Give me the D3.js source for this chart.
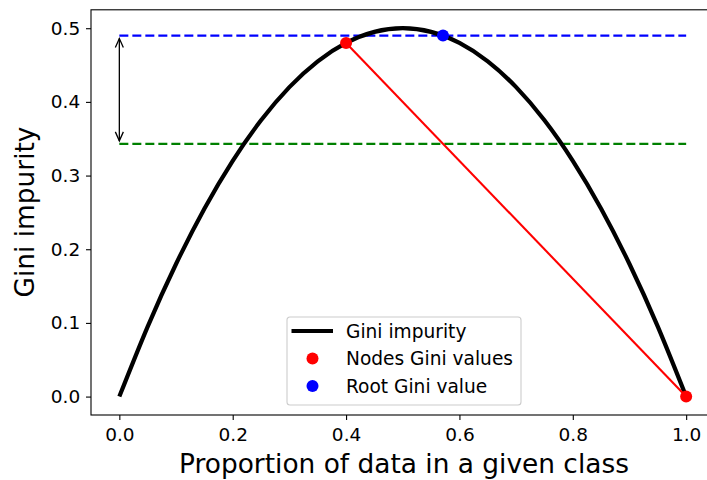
<!DOCTYPE html>
<html><head><meta charset="utf-8">
<script src="https://cdn.jsdelivr.net/npm/d3@7"></script>
<style>html,body{margin:0;padding:0;background:#fff;} svg{display:block;font-family:"DejaVu Sans",sans-serif;}</style>
</head><body>
<svg id="c" width="707" height="480"></svg>
<script>
// Data
const proportion = [0,0.05,0.1,0.15,0.2,0.25,0.3,0.35,0.4,0.45,0.5,0.55,0.6,0.65,0.7,0.75,0.8,0.85,0.9,0.95,1.0];
const giniValues = [0,0.095,0.18,0.255,0.32,0.375,0.42,0.455,0.48,0.495,0.5,0.495,0.48,0.455,0.42,0.375,0.32,0.255,0.18,0.095,0];
const nodeX = [0.4, 1.0];
const nodeGini = [0.48, 0.0];
const rootX = [0.571];
const rootGini = [0.49];
const weightedGini = 0.343;
const xTicks = [0.0,0.2,0.4,0.6,0.8,1.0];
const yTicks = [0.0,0.1,0.2,0.3,0.4,0.5];
const legendLabels = ["Gini impurity","Nodes Gini values","Root Gini value"];

const svg = d3.select("#c");
const L = 91, R = 714.5, T = 9.8, B = 415;
const x = d3.scaleLinear().domain([-0.05,1.05]).range([L,R]);
const y = d3.scaleLinear().domain([-0.025,0.525]).range([B,T]);

// dashed lines
svg.append("line").attr("x1",x(0)).attr("x2",x(1)).attr("y1",y(rootGini[0])).attr("y2",y(rootGini[0]))
  .attr("stroke","#0000ff").attr("stroke-width",2.2).attr("stroke-dasharray","9,4");
svg.append("line").attr("x1",x(0)).attr("x2",x(1)).attr("y1",y(weightedGini)).attr("y2",y(weightedGini))
  .attr("stroke","#008000").attr("stroke-width",2.2).attr("stroke-dasharray","9,4");

// arrow
const ax = x(0), ay1 = y(rootGini[0]) + 3, ay2 = y(weightedGini) - 3;
svg.append("line").attr("x1",ax).attr("x2",ax).attr("y1",ay1).attr("y2",ay2).attr("stroke","#000").attr("stroke-width",1.3);
svg.append("path").attr("d",`M${ax-4},${ay1+9}L${ax},${ay1}L${ax+4},${ay1+9}`).attr("fill","none").attr("stroke","#000").attr("stroke-width",1.3);
svg.append("path").attr("d",`M${ax-4},${ay2-9}L${ax},${ay2}L${ax+4},${ay2-9}`).attr("fill","none").attr("stroke","#000").attr("stroke-width",1.3);

// curve
const line = d3.line().x((d,i)=>x(proportion[i])).y(d=>y(d)).curve(d3.curveNatural);
svg.append("path").datum(giniValues).attr("d",line).attr("fill","none").attr("stroke","#000").attr("stroke-width",4.2);

// red line between nodes
const nl = d3.line().x((d,i)=>x(nodeX[i])).y(d=>y(d));
svg.append("path").datum(nodeGini).attr("d",nl).attr("fill","none").attr("stroke","#ff0000").attr("stroke-width",2.1);

svg.selectAll(".node").data(nodeGini).enter().append("circle")
  .attr("cx",(d,i)=>x(nodeX[i])).attr("cy",d=>y(d)).attr("r",6).attr("fill","#ff0000");
svg.selectAll(".root").data(rootGini).enter().append("circle")
  .attr("cx",(d,i)=>x(rootX[i])).attr("cy",d=>y(d)).attr("r",6).attr("fill","#0000ff");

// axes
const xa = svg.append("g").attr("transform",`translate(0,${B})`)
  .call(d3.axisBottom(x).tickValues(xTicks).tickFormat(d3.format(".1f")).tickSize(5).tickSizeOuter(0));
const ya = svg.append("g").attr("transform",`translate(${L},0)`)
  .call(d3.axisLeft(y).tickValues(yTicks).tickFormat(d3.format(".1f")).tickSize(5).tickSizeOuter(0));
[xa,ya].forEach(g=>{
  g.selectAll("text").attr("font-size",18.5).attr("fill","#000").attr("font-family","DejaVu Sans");
  g.selectAll("line").attr("stroke","#000").attr("stroke-width",1.1);
  g.select(".domain").attr("stroke","none");
});
xa.selectAll("text").attr("dy","0.95em");
ya.selectAll("text").attr("dx","-0.15em");
// spines
svg.append("rect").attr("x",L).attr("y",T).attr("width",R-L).attr("height",B-T)
  .attr("fill","none").attr("stroke","#000").attr("stroke-width",1.1);

// labels
svg.append("text").attr("x",404).attr("y",473).attr("text-anchor","middle")
  .attr("font-size",26.4).text("Proportion of data in a given class");
svg.append("text").attr("transform",`translate(34,${212}) rotate(-90)`).attr("text-anchor","middle")
  .attr("font-size",26.4).text("Gini impurity");

// legend
const lg = svg.append("g").attr("transform","translate(287,317)");
lg.append("rect").attr("x",0).attr("y",0).attr("width",234).attr("height",88).attr("rx",3)
  .attr("fill","#fff").attr("fill-opacity",0.8).attr("stroke","#cccccc").attr("stroke-width",1.1);
const rows = [14, 41.5, 69];
lg.append("line").attr("x1",4.5).attr("x2",46).attr("y1",rows[0]).attr("y2",rows[0]).attr("stroke","#000").attr("stroke-width",4.2);
lg.append("circle").attr("cx",25.5).attr("cy",rows[1]).attr("r",6).attr("fill","#ff0000");
lg.append("circle").attr("cx",25.5).attr("cy",rows[2]).attr("r",6).attr("fill","#0000ff");
legendLabels.forEach((t,i)=>{
  lg.append("text").attr("x",59).attr("y",rows[i]).attr("dy","0.36em").attr("font-size",18.6).text(t);
});
</script>
</body></html>
